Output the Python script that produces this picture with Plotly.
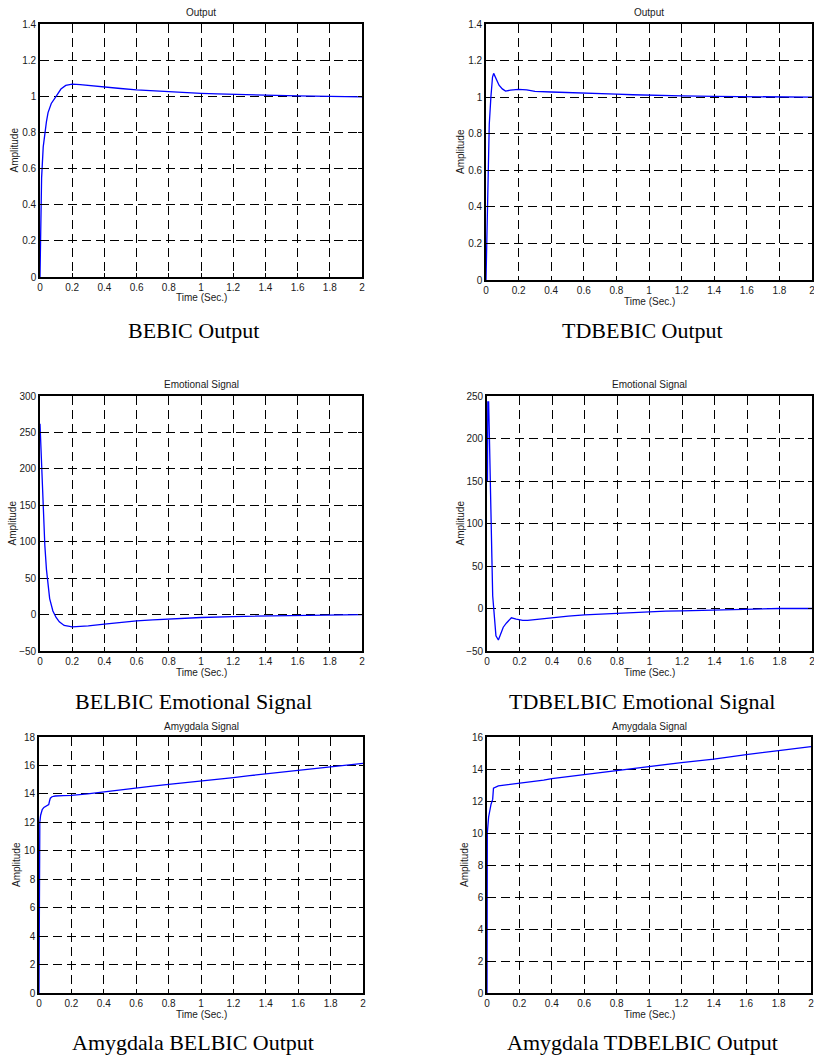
import plotly.graph_objects as go

W, H = 814, 1059

# ---------------- data ----------------
t_bebic = [0, 0.005, 0.01, 0.02, 0.03, 0.04, 0.05, 0.07, 0.1, 0.13, 0.16, 0.2, 0.25, 0.3, 0.4, 0.5,
           0.6, 0.7, 0.8, 0.9, 1.0, 1.1, 1.2, 1.3, 1.4, 1.5, 1.6, 1.8, 2.0]
y_bebic = [0, 0.3, 0.55, 0.72, 0.8, 0.86, 0.91, 0.96, 1.0, 1.04, 1.06, 1.067, 1.065, 1.06, 1.05, 1.043,
           1.036, 1.03, 1.025, 1.02, 1.016, 1.013, 1.01, 1.007, 1.005, 1.003, 1.002, 1.0, 0.997]

t_tdbebic = [0, 0.005, 0.01, 0.02, 0.03, 0.04, 0.047, 0.06, 0.08, 0.1, 0.12, 0.15, 0.2, 0.25, 0.3, 0.4,
             0.5, 0.6, 0.7, 0.8, 0.9, 1.0, 1.2, 1.4, 1.6, 1.8, 2.0]
y_tdbebic = [0, 0.25, 0.55, 0.85, 1.0, 1.11, 1.13, 1.1, 1.065, 1.045, 1.033, 1.038, 1.042, 1.04, 1.032,
             1.028, 1.024, 1.02, 1.018, 1.016, 1.013, 1.01, 1.007, 1.004, 1.002, 1.001, 1.0]

t_emo_belbic = [0, 0.005, 0.01, 0.02, 0.03, 0.04, 0.05, 0.06, 0.08, 0.1, 0.12, 0.15, 0.2, 0.25, 0.3,
                0.4, 0.5, 0.6, 0.7, 0.8, 0.9, 1.0, 1.2, 1.4, 1.6, 1.8, 2.0]
y_emo_belbic = [262, 230, 195, 140, 95, 62, 38, 22, 5, -4, -10, -15, -17, -16.5, -15.5,
                -13, -10.5, -8.7, -7.3, -6, -5, -4, -2.7, -1.8, -1, -0.4, 0]

t_emo_tdbelbic = [0, 0.003, 0.005, 0.01, 0.015, 0.02, 0.03, 0.035, 0.045, 0.055, 0.07, 0.085, 0.1,
                  0.12, 0.15, 0.18, 0.22, 0.25, 0.3, 0.4, 0.5, 0.6, 0.7, 0.8, 0.9, 1.0, 1.1, 1.2,
                  1.3, 1.4, 1.5, 1.6, 1.7, 1.8, 2.0]
y_emo_tdbelbic = [150, 150, 243, 243, 200, 140, 60, 15, -15, -32, -37, -30, -22,
                  -17, -11, -12.5, -14, -14, -13, -10.5, -9, -7.5, -6.5, -5.8, -4.8, -4, -3.2, -2.7,
                  -2.2, -1.8, -1.5, -1.1, -0.3, 0, 0]

t_amy_belbic = [0, 0.002, 0.005, 0.01, 0.02, 0.03, 0.05, 0.06, 0.065, 0.07, 0.08, 0.1, 0.15, 0.2,
                0.3, 0.4, 0.5, 0.6, 0.7, 0.8, 0.9, 1.0, 1.1, 1.2, 1.3, 1.4, 1.5, 1.6, 1.7, 1.8, 1.9, 2.0]
y_amy_belbic = [0, 11, 12, 12.5, 12.9, 13.05, 13.2, 13.25, 13.5, 13.7, 13.8, 13.85, 13.88, 13.9,
                14.0, 14.15, 14.28, 14.42, 14.55, 14.67, 14.78, 14.9, 15.02, 15.15, 15.28, 15.4, 15.52,
                15.65, 15.77, 15.9, 16.02, 16.15]

t_amy_tdbelbic = [0, 0.002, 0.01, 0.02, 0.025, 0.035, 0.04, 0.07, 0.2, 0.35, 0.4, 0.6, 0.8, 0.95,
                  1.0, 1.2, 1.4, 1.55, 1.6, 1.8, 2.0]
y_amy_tdbelbic = [0, 10, 11.0, 11.6, 11.8, 12.1, 12.8, 12.95, 13.1, 13.3, 13.4, 13.65, 13.9, 14.1,
                  14.18, 14.4, 14.62, 14.8, 14.9, 15.15, 15.4]

x_ticks = [0, 0.2, 0.4, 0.6, 0.8, 1, 1.2, 1.4, 1.6, 1.8, 2]
y_ticks_out = [0, 0.2, 0.4, 0.6, 0.8, 1, 1.2, 1.4]
y_ticks_emo1 = [-50, 0, 50, 100, 150, 200, 250, 300]
y_ticks_emo2 = [-50, 0, 50, 100, 150, 200, 250]
y_ticks_amy1 = [0, 2, 4, 6, 8, 10, 12, 14, 16, 18]
y_ticks_amy2 = [0, 2, 4, 6, 8, 10, 12, 14, 16]

titles = ["Output", "Output", "Emotional Signal", "Emotional Signal", "Amygdala Signal", "Amygdala Signal"]
captions = ["BEBIC Output", "TDBEBIC Output", "BELBIC Emotional Signal", "TDBELBIC Emotional Signal",
            "Amygdala BELBIC Output", "Amygdala TDBELBIC Output"]
x_label = "Time (Sec.)"
y_label = "Amplitude"

# ---------------- layout (pixel boxes) ----------------
series = [
    (t_bebic, y_bebic, [0, 1.4], y_ticks_out),
    (t_tdbebic, y_tdbebic, [0, 1.4], y_ticks_out),
    (t_emo_belbic, y_emo_belbic, [-50, 300], y_ticks_emo1),
    (t_emo_tdbelbic, y_emo_tdbelbic, [-50, 250], y_ticks_emo2),
    (t_amy_belbic, y_amy_belbic, [0, 18], y_ticks_amy1),
    (t_amy_tdbelbic, y_amy_tdbelbic, [0, 16], y_ticks_amy2),
]
boxes = [(40, 362, 24, 277), (486, 812, 24, 280),
         (40, 362, 396, 651), (487, 812, 396, 651),
         (39, 363, 737, 993), (487, 811, 737, 993)]
amp_x = [14, 460, 12, 460, 16, 464]
cap_pos = [(193, 331), (642, 331), (193, 701), (642, 701), (193, 1042), (642, 1042)]


def px(x):
    return x / W


def py(y):
    return 1 - y / H


fig = go.Figure()
layout = dict(width=W, height=H, template="none",
              margin=dict(l=0, r=0, t=0, b=0, pad=0, autoexpand=False),
              paper_bgcolor="white", plot_bgcolor="white", showlegend=False,
              font=dict(family="Liberation Sans, Arial, sans-serif", size=10, color="black"))
annotations = []

tick_font = dict(family="Liberation Sans, Arial, sans-serif", size=10, color="#1a1a1a")
small_font = dict(family="Liberation Sans, Arial, sans-serif", size=10, color="#1a1a1a")

for i, ((xs, ys, yr, yt), (x0, x1, y0, y1)) in enumerate(zip(series, boxes)):
    n = i + 1
    xa = "xaxis" if n == 1 else f"xaxis{n}"
    ya = "yaxis" if n == 1 else f"yaxis{n}"
    xr = "x" if n == 1 else f"x{n}"
    yrf = "y" if n == 1 else f"y{n}"
    fig.add_trace(go.Scatter(x=xs, y=ys, mode="lines", xaxis=xr, yaxis=yrf,
                             line=dict(color="#0000FF", width=1.3), hoverinfo="skip"))
    common = dict(showline=True, linecolor="black", linewidth=1.6, mirror="ticks",
                  ticks="inside", ticklen=4, tickcolor="black", tickwidth=1,
                  showgrid=True, gridcolor="black", gridwidth=1, griddash="9px,5px",
                  zeroline=False, tickfont=tick_font, fixedrange=True, automargin=False,
                  ticklabeloverflow="allow")
    layout[xa] = dict(domain=[px(x0), px(x1)], range=[0, 2], tickvals=x_ticks,
                      anchor=yrf, **common)
    layout[ya] = dict(domain=[py(y1), py(y0)], range=yr, tickvals=yt,
                      anchor=xr, **common)
    cx = (x0 + x1) / 2
    cy = (y0 + y1) / 2
    annotations.append(dict(text=titles[i], x=px(cx), y=py(y0 - 11), xref="paper", yref="paper",
                            showarrow=False, xanchor="center", yanchor="middle", font=small_font))
    annotations.append(dict(text=x_label, x=px(cx), y=py(y1 + 21), xref="paper", yref="paper",
                            showarrow=False, xanchor="center", yanchor="middle", font=small_font))
    annotations.append(dict(text=y_label, x=px(amp_x[i]), y=py(cy), xref="paper", yref="paper",
                            showarrow=False, xanchor="center", yanchor="middle", textangle=-90,
                            font=small_font))
    annotations.append(dict(text=captions[i], x=px(cap_pos[i][0]), y=py(cap_pos[i][1]),
                            xref="paper", yref="paper", showarrow=False, xanchor="center",
                            yanchor="middle",
                            font=dict(family="Liberation Serif, Times New Roman, serif", size=22,
                                      color="black")))

layout["annotations"] = annotations
fig.update_layout(**layout)
fig.write_html("out.html", config={"displayModeBar": False},
               post_script="document.body.style.margin='0';")
